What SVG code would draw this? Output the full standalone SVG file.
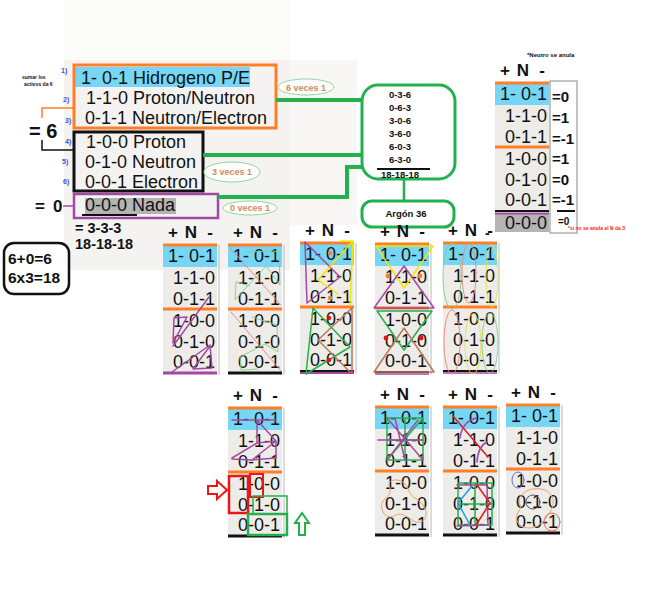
<svg xmlns="http://www.w3.org/2000/svg" xmlns:xlink="http://www.w3.org/1999/xlink" width="649" height="600" viewBox="0 0 649 600">
<style>
text{font-family:"Liberation Sans",Arial,sans-serif;}
.t18{font-size:18px;fill:#111;}
.tv{font-size:18px;fill:#111;text-anchor:end;}
.hd{font-size:17px;font-weight:bold;fill:#111;text-anchor:middle;}
.b{font-weight:bold;fill:#111;}
.num{font-size:7px;font-weight:bold;fill:#4a4ae0;}
.or{stroke:#ff7f27;stroke-width:3;}
.gl{fill:none;stroke:#22b14c;stroke-width:4;}
.gb{fill:#fff;stroke:#22b14c;stroke-width:3;}
.vc{font-size:9px;font-weight:bold;fill:#d4895a;text-anchor:middle;}
.ve{fill:#fff;stroke:#8fd6a0;stroke-width:1;}
.gn{font-size:9.5px;font-weight:bold;fill:#111;text-anchor:middle;}
.s{fill:none;stroke-linejoin:round;stroke-linecap:round;}
.pu{stroke:#a349a4;stroke-width:1.5;}
.ye{stroke:#f5e400;stroke-width:1.5;}
.gr{stroke:#22b14c;stroke-width:1.5;}
.br{stroke:#b97a57;stroke-width:1.5;}
.lg{stroke:#7fcf8f;stroke-width:0.9;}
.lr{stroke:#ee8080;stroke-width:0.9;}
.ly{stroke:#e8e040;stroke-width:0.9;}
</style>
<defs>
<g id="tbl">
<rect x="0" y="0" width="54" height="128" fill="#eeece8"/>
<rect x="0" y="1" width="54" height="21" fill="#76d6f5"/>
<line x1="0" y1="0" x2="54" y2="0" class="or"/>
<line x1="0" y1="64" x2="54" y2="64" class="or"/>
<line x1="56" y1="0" x2="56" y2="130" stroke="#b8b8b8" stroke-width="1"/>
<text class="hd" x="10" y="-7">+</text>
<text class="hd" x="28" y="-7">N</text>
<text class="hd" x="47" y="-7">-</text>
<text class="tv" x="52" y="17">1- 0-1</text>
<text class="tv" x="52" y="39">1-1-0</text>
<text class="tv" x="52" y="60">0-1-1</text>
<text class="tv" x="52" y="82">1-0-0</text>
<text class="tv" x="52" y="103">0-1-0</text>
<text class="tv" x="52" y="123">0-0-1</text>
</g>
</defs>
<rect width="649" height="600" fill="#fff"/>
<rect x="64" y="0" width="226" height="60" fill="#fbfbfa"/>
<rect x="64" y="60" width="226" height="210" fill="#f4f3f1"/>
<rect x="290" y="60" width="67" height="165" fill="#f8f7f5"/>

<g id="notes">
<text x="22" y="79" font-size="5" class="b">sumar los</text>
<text x="24" y="86" font-size="5" class="b">activos da 6</text>
<text class="num" x="61" y="73">1)</text>
<text class="num" x="63" y="102">2)</text>
<text class="num" x="65" y="123">3)</text>
<text class="num" x="65" y="144">4)</text>
<text class="num" x="62" y="164">5)</text>
<text class="num" x="63" y="184">6)</text>
<polyline points="42,118 42,108 73,108" fill="none" stroke="#ff7f27" stroke-width="1.5"/>
<polyline points="42,140 42,150 73,150" fill="none" stroke="#111" stroke-width="1.5"/>
<text x="29" y="138" font-size="20" class="b">= 6</text>
<text x="35" y="212" font-size="17" class="b">=</text>
<text x="53" y="212" font-size="17" class="b">0</text>
<line x1="63" y1="206" x2="73" y2="206" stroke="#a349a4" stroke-width="1.5"/>
<text x="75" y="233" font-size="14.5" class="b">= 3-3-3</text>
<text x="75" y="249" font-size="14.5" class="b">18-18-18</text>
</g>

<g id="group-orange">
<rect x="75" y="67" width="175" height="20" fill="#76d6f5"/>
<rect x="74" y="65" width="202" height="63" fill="none" stroke="#ff7f27" stroke-width="3"/>
<text class="t18" x="81" y="84">1- 0-1 Hidrogeno P/E</text>
<text class="t18" x="86" y="104">1-1-0 Proton/Neutron</text>
<text class="t18" x="85" y="124">0-1-1 Neutron/Electron</text>
</g>
<g id="group-black">
<rect x="74" y="132" width="129" height="59" fill="none" stroke="#111" stroke-width="3"/>
<text class="t18" x="86" y="148">1-0-0 Proton</text>
<text class="t18" x="85" y="168">0-1-0 Neutron</text>
<text class="t18" x="85" y="188">0-0-1 Electron</text>
</g>
<g id="group-purple">
<rect x="85" y="198" width="91" height="16" fill="#b4b4b4"/>
<rect x="74" y="194" width="144" height="24" fill="none" stroke="#a349a4" stroke-width="2.5"/>
<text class="t18" x="85" y="211">0-0-0 Nada</text>
<line x1="82" y1="215" x2="137" y2="215" stroke="#111" stroke-width="2"/>
</g>

<g id="connectors">
<line class="gl" x1="276" y1="100" x2="362" y2="100"/>
<line class="gl" x1="203" y1="155" x2="362" y2="155"/>
<polyline class="gl" points="218,197 347,197 347,167 362,167"/>
<line x1="404" y1="179" x2="404" y2="201" stroke="#22b14c" stroke-width="2.5"/>
</g>

<g id="label-6veces">
<ellipse class="ve" cx="306" cy="87" rx="28" ry="8"/>
<text class="vc" x="306" y="91">6 veces 1</text>
</g>
<g id="label-3veces">
<ellipse class="ve" cx="232" cy="172" rx="28" ry="10"/>
<text class="vc" x="232" y="175">3 veces 1</text>
</g>
<g id="label-0veces">
<ellipse class="ve" cx="250" cy="208" rx="27" ry="7"/>
<text class="vc" x="250" y="211">0 veces 1</text>
</g>

<g id="combos">
<rect class="gb" x="362" y="85" width="93" height="94" rx="16"/>
<text class="gn" x="400" y="98">0-3-6</text>
<text class="gn" x="400" y="111">0-6-3</text>
<text class="gn" x="400" y="124">3-0-6</text>
<text class="gn" x="400" y="137">3-6-0</text>
<text class="gn" x="400" y="150">6-0-3</text>
<text class="gn" x="400" y="163">6-3-0</text>
<line x1="377" y1="169" x2="430" y2="169" stroke="#111" stroke-width="2"/>
<text class="gn" x="400" y="178">18-18-18</text>
</g>
<g id="argon">
<rect class="gb" x="362" y="201" width="92" height="26" rx="10"/>
<text class="gn" x="406" y="217">Argón 36</text>
</g>

<g id="calc">
<rect x="4" y="243" width="65" height="51" rx="10" fill="#fff" stroke="#111" stroke-width="2.5"/>
<text x="8" y="264" font-size="15.5" class="b">6+0=6</text>
<text x="8" y="283" font-size="15.5" class="b">6x3=18</text>
</g>

<g id="table-right">
<text x="527" y="57" font-size="6" class="b">*Neutro se anula</text>
<use xlink:href="#tbl" transform="translate(495,83)"/>
<rect x="495" y="213" width="54" height="19" fill="#b4b4b4"/>
<line x1="495" y1="211" x2="549" y2="211" stroke="#111" stroke-width="2"/>
<line x1="495" y1="213.5" x2="549" y2="213.5" stroke="#a349a4" stroke-width="2"/>
<text class="tv" x="547" y="229">0-0-0</text>
<rect x="550" y="81" width="27" height="152" fill="#fff" stroke="#888" stroke-width="1"/>
<text x="552" y="102" font-size="15" class="b">=0</text>
<text x="552" y="123" font-size="15" class="b">=1</text>
<text x="552" y="144" font-size="15" class="b">=-1</text>
<text x="552" y="164" font-size="15" class="b">=1</text>
<text x="552" y="185" font-size="15" class="b">=0</text>
<text x="552" y="205" font-size="15" class="b">=-1</text>
<line x1="557" y1="211" x2="575" y2="211" stroke="#111" stroke-width="2"/>
<text x="558" y="225" font-size="10" class="b">=0</text>
<text x="568" y="230" font-size="5" font-weight="bold" fill="#ff2020">*si no se anula el N da 3</text>
<text x="485" y="238" font-size="14" class="b">-</text>
</g>

<g id="table-a">
<use xlink:href="#tbl" transform="translate(163,245)"/>
<line x1="163" y1="373" x2="217" y2="373" stroke="#a349a4" stroke-width="3"/>
<path class="s pu" d="M174 318 L187 317 L173 343 Z M173 346 L209 297 M172 372 L210 345 L212 368 L193 369 L210 346"/>
</g>
<g id="table-b">
<use xlink:href="#tbl" transform="translate(228,245)"/>
<line x1="228" y1="373" x2="282" y2="373" stroke="#111" stroke-width="3"/>
<path class="s lr" d="M230 248 L281 305 M231 312 L281 371"/>
<path class="s lg" d="M246 252 L279 251 L280 285 L266 266 L235 300 L236 282 L250 286 M252 317 L277 325 L278 352 L265 344 L240 357 L241 370 L258 369"/>
</g>
<g id="table-c">
<use xlink:href="#tbl" transform="translate(300,243)"/>
<line x1="300" y1="371" x2="354" y2="371" stroke="#111" stroke-width="2"/>
<line x1="300" y1="373" x2="354" y2="373" stroke="#a349a4" stroke-width="2"/>
<path class="s pu" d="M305 242 L307 303 M305 242 L340 277 L307 303"/>
<path class="s ye" d="M340 241 L353 241 L350 305 M353 241 L318 280 L338 294"/>
<path class="s gr" d="M313 308 L306 374 M313 308 L350 347 L306 374"/>
<path class="s br" d="M352 308 L352 372 M352 308 L318 340 L350 372"/>
<circle cx="330" cy="253" r="2.2" fill="#ff7f27"/>
<circle cx="330" cy="298" r="2.2" fill="#ff7f27"/>
<circle cx="329" cy="318" r="2.2" fill="#e81010"/>
<circle cx="329" cy="360" r="2.2" fill="#e81010"/>
</g>
<g id="table-d">
<use xlink:href="#tbl" transform="translate(375,244)"/>
<line x1="375" y1="372" x2="429" y2="372" stroke="#111" stroke-width="2"/>
<line x1="375" y1="374" x2="429" y2="374" stroke="#a349a4" stroke-width="1.5"/>
<path class="s ye" d="M376 246 L433 246 L404 288 Z"/>
<path class="s pu" d="M374 308 L434 308 L404 266 Z"/>
<path class="s gr" d="M377 311 L432 311 L404 350 Z"/>
<path class="s br" d="M374 372 L434 372 L404 328 Z"/>
<circle cx="388" cy="276" r="2.4" fill="#ff7f27"/>
<circle cx="420" cy="276" r="2.4" fill="#ff7f27"/>
<circle cx="386" cy="338" r="2.4" fill="#e81010"/>
<circle cx="421" cy="338" r="2.4" fill="#e81010"/>
</g>
<g id="table-e">
<use xlink:href="#tbl" transform="translate(443,243)"/>
<line x1="443" y1="371" x2="497" y2="371" stroke="#111" stroke-width="2"/>
<line x1="443" y1="373" x2="497" y2="373" stroke="#a349a4" stroke-width="1.5"/>
<ellipse class="s lg" cx="452" cy="276" rx="9" ry="33"/>
<ellipse class="s lr" cx="469" cy="273" rx="7" ry="30"/>
<ellipse class="s ly" cx="492" cy="276" rx="6" ry="31"/>
<ellipse class="s lr" cx="452" cy="342" rx="8" ry="32"/>
<ellipse class="s ly" cx="473" cy="344" rx="8" ry="30"/>
<ellipse class="s lg" cx="490" cy="343" rx="8" ry="30"/>
</g>

<g id="table-f">
<use xlink:href="#tbl" transform="translate(228,408)"/>
<line x1="228" y1="536" x2="282" y2="536" stroke="#111" stroke-width="3"/>
<path class="s pu" d="M232 420 L276 420 M257 420 L257 443 L276 441 L276 458 L252 460 L232 459 M257 443 L232 458 M276 441 L257 420 M252 460 L276 441"/>
<rect x="229" y="476" width="19" height="37" fill="none" stroke="#e81818" stroke-width="2.5"/>
<rect x="250" y="474" width="13" height="23" fill="none" stroke="#e81818" stroke-width="2"/>
<rect x="253" y="496" width="34" height="18" fill="none" stroke="#22b14c" stroke-width="1.5"/>
<rect x="248" y="514" width="39" height="21" fill="none" stroke="#22b14c" stroke-width="2.5"/>
<polygon points="208,486 217,486 217,481 227,490 217,499 217,494 208,494" fill="#fff" stroke="#e81818" stroke-width="2"/>
<polygon points="302,513 309,523 305,523 305,535 299,535 299,523 295,523" fill="#fff" stroke="#22b14c" stroke-width="2"/>
</g>
<g id="table-g">
<use xlink:href="#tbl" transform="translate(375,407)"/>
<line x1="375" y1="535" x2="429" y2="535" stroke="#111" stroke-width="3"/>
<path class="s gr" d="M387 418 L423 418 L423 460 L387 460 Z M387 440 L423 440 M405 418 L405 460 M387 460 L423 418"/>
<path class="s pu" d="M387 418 L423 460 M378 440 L423 440 M395 418 L405 460 M387 460 L418 420"/>
<path class="s" stroke="#f0a060" stroke-width="1" d="M390 488 C384 478 404 476 408 489 C411 499 421 499 425 508 C429 520 420 526 412 520 C405 515 400 512 394 516 C384 521 378 505 384 500 C389 495 391 493 390 488 Z"/>
</g>
<g id="table-h">
<use xlink:href="#tbl" transform="translate(443,407)"/>
<line x1="443" y1="535" x2="497" y2="535" stroke="#111" stroke-width="3"/>
<path class="s" stroke="#e81818" stroke-width="1.5" d="M453 416 L488 457"/>
<path class="s pu" d="M476 418 Q462 422 460 438 M487 442 Q478 446 477 462"/>
<path class="s gr" d="M458 483 L492 483 L492 525 L458 525 Z M458 504 L492 504 M475 483 L475 525"/>
<path class="s pu" d="M457 485 L487 485 L488 525 L457 526"/>
<path class="s" stroke="#1ea0e6" stroke-width="1.5" d="M472 486 L458 503 L470 525"/>
<path class="s" stroke="#e81818" stroke-width="1.5" d="M477 485 L490 503 L476 525"/>
</g>
<g id="table-i">
<use xlink:href="#tbl" transform="translate(506,405)"/>
<line x1="506" y1="533" x2="560" y2="533" stroke="#111" stroke-width="3"/>
<ellipse class="s" stroke="#6070e0" stroke-width="1" cx="518" cy="480" rx="6" ry="8"/>
<circle class="s" stroke="#555" stroke-width="1" cx="533" cy="502" r="7"/>
<ellipse class="s" stroke="#e86060" stroke-width="1" cx="552" cy="522" rx="8" ry="9"/>
<path class="s" stroke="#f0a060" stroke-width="1" d="M520 505 C515 495 530 485 545 490 C555 495 555 505 550 512 C545 520 540 527 530 528 C520 528 515 522 517 515 C518 510 522 510 520 505 Z"/>
</g>
</svg>
